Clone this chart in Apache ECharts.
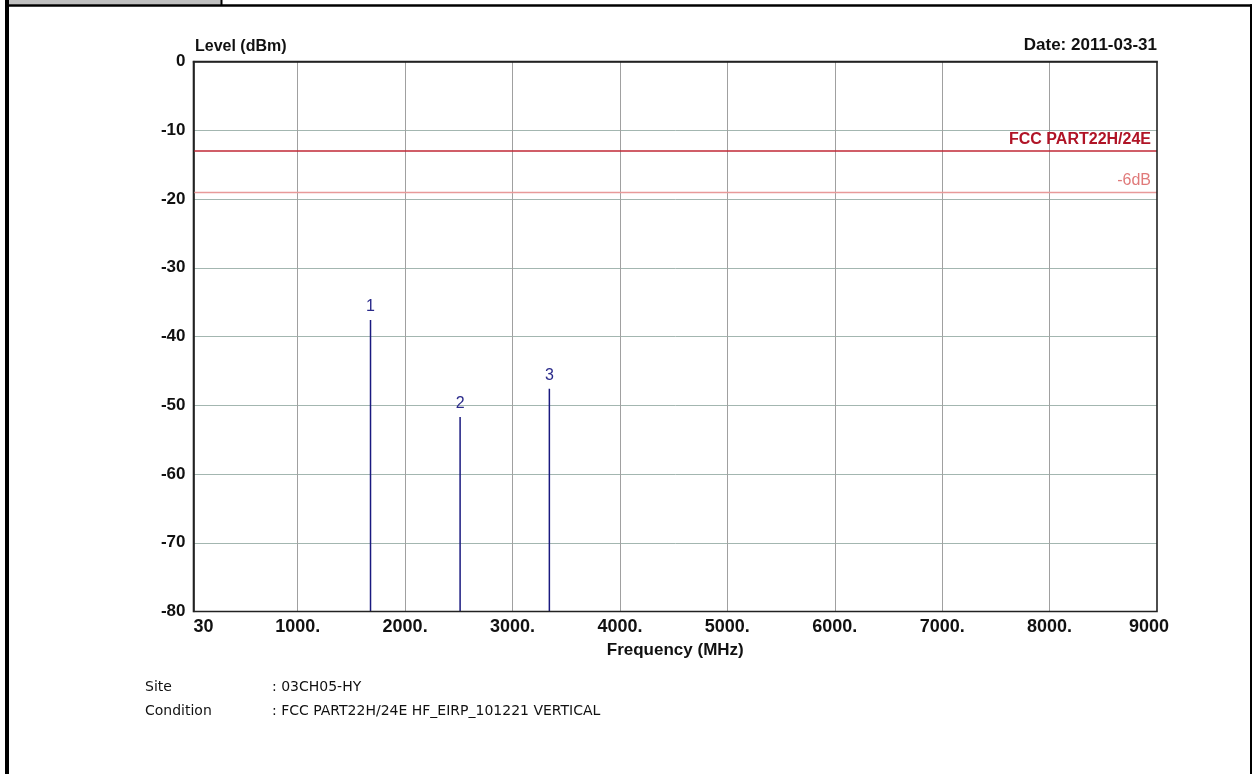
<!DOCTYPE html>
<html>
<head>
<meta charset="utf-8">
<script src="https://cdn.jsdelivr.net/npm/echarts@6/dist/echarts.min.js"></script>
<style>
html,body{margin:0;padding:0;background:#fff;}
#chart{width:1252px;height:774px;}
</style>
</head>
<body>
<div id="chart"></div>
<script>
// ---- data ----
const markerIds = ['1', '2', '3'];
const markerFreqs = [1678, 2512, 3343];        // MHz
const markerLevels = [-37.6, -51.7, -47.6];    // dBm
const limitValues = [-13, -19];                // dBm
const limitNames = ['FCC PART22H/24E', '-6dB'];
const xTicks = [30, 1000, 2000, 3000, 4000, 5000, 6000, 7000, 8000, 9000];
const yMin = -80, yMax = 0, yStep = 10;
const xMin = 30, xMax = 9000;
const dateText = 'Date: 2011-03-31';
const infoLabels = ['Site', 'Condition'];
const infoValues = [': 03CH05-HY', ': FCC PART22H/24E HF_EIRP_101221 VERTICAL'];

const chart = echarts.init(document.getElementById('chart'), null, {renderer: 'canvas'});
const FONT = 'Liberation Sans, Arial, sans-serif';
const INFO_FONT = '14px DejaVu Sans, sans-serif';

const spikeData = markerFreqs.map((f, i) => [f, markerLevels[i], markerIds[i]]);

const option = {
  backgroundColor: '#fff',
  animation: false,
  grid: {
    left: 193.5, right: 95, top: 61.5, bottom: 162.5,
    show: true, borderColor: '#222', borderWidth: 1.6, backgroundColor: 'transparent', z: 10
  },
  xAxis: {
    type: 'value', min: xMin, max: xMax,
    name: 'Frequency (MHz)', nameLocation: 'middle', nameGap: 28,
    nameTextStyle: {fontFamily: FONT, fontWeight: 'bold', fontSize: 17, color: '#111'},
    axisLine: {show: true, lineStyle: {color: '#222', width: 1.6}},
    axisTick: {show: false, customValues: xTicks},
    splitLine: {show: true, showMinLine: false, showMaxLine: false, lineStyle: {color: '#a0a0a0', width: 1}},
    axisLabel: {
      customValues: xTicks,
      margin: 7,
      alignMinLabel: 'left',
      fontFamily: FONT, fontWeight: 'bold', fontSize: 18, color: '#111',
      formatter: function (v) {
        if (v === xMin) return '30';
        if (v === xMax) return '{m|9000}';
        return v + '.';
      },
      rich: {m: {fontFamily: FONT, fontWeight: 'bold', fontSize: 18, color: '#111', padding: [0, 16, 0, 0]}}
    }
  },
  yAxis: {
    type: 'value', min: yMin, max: yMax, interval: yStep,
    axisLine: {show: true, lineStyle: {color: '#222', width: 1.6}},
    axisTick: {show: false},
    splitLine: {show: true, showMinLine: false, showMaxLine: false, lineStyle: {color: '#a3b6b0', width: 1}},
    axisLabel: {margin: 8, fontFamily: FONT, fontWeight: 'bold', fontSize: 17, color: '#111'}
  },
  series: [
    {
      type: 'custom',
      data: spikeData,
      z: 5,
      clip: true,
      renderItem: function (params, api) {
        const x = api.value(0), y = api.value(1);
        const top = api.coord([x, y]);
        const base = api.coord([x, yMin]);
        return {
          type: 'group',
          children: [
            {type: 'line', shape: {x1: top[0], y1: top[1], x2: base[0], y2: base[1]},
              style: {stroke: '#1a1a80', lineWidth: 1.5}},
            {type: 'text', x: top[0], y: top[1] - 5,
              style: {text: markerIds[params.dataIndex], fill: '#2a2a8a', font: '16px ' + FONT,
                align: 'center', verticalAlign: 'bottom'}}
          ]
        };
      },
      markLine: {
        silent: true, symbol: 'none', animation: false,
        data: [
          {yAxis: limitValues[0], name: limitNames[0],
            lineStyle: {color: '#c02836', width: 1.6, type: 'solid'},
            label: {show: true, position: 'insideEndTop', formatter: limitNames[0], distance: [6, 3],
              color: '#b01426', fontFamily: FONT, fontWeight: 'bold', fontSize: 16}},
          {yAxis: limitValues[1], name: limitNames[1],
            lineStyle: {color: '#e89a9a', width: 1.4, type: 'solid'},
            label: {show: true, position: 'insideEndTop', formatter: limitNames[1], distance: [6, 4],
              color: '#e07a7a', fontFamily: FONT, fontSize: 16}}
        ]
      }
    }
  ],
  graphic: [
    // frame
    {type: 'rect', shape: {x: 9, y: 0, width: 212, height: 4.5}, style: {fill: '#c0c0c0'}, silent: true},
    {type: 'rect', shape: {x: 220.5, y: 0, width: 2, height: 5}, style: {fill: '#000'}, silent: true},
    {type: 'rect', shape: {x: 5, y: 4.3, width: 1247, height: 2.4}, style: {fill: '#000'}, silent: true},
    {type: 'rect', shape: {x: 5, y: 0, width: 4, height: 774}, style: {fill: '#000'}, silent: true},
    {type: 'rect', shape: {x: 1250, y: 4.3, width: 2, height: 770}, style: {fill: '#000'}, silent: true},
    // titles
    {type: 'text', x: 195, y: 47, style: {text: 'Level (dBm)', font: 'bold 16px ' + FONT, fill: '#111',
      align: 'left', verticalAlign: 'middle'}, silent: true},
    {type: 'text', x: 1157, y: 45, style: {text: dateText, font: 'bold 17px ' + FONT, fill: '#111',
      align: 'right', verticalAlign: 'middle'}, silent: true},
    // info lines
    {type: 'text', x: 145, y: 687, style: {text: infoLabels[0], font: INFO_FONT, fill: '#111',
      align: 'left', verticalAlign: 'middle'}, silent: true},
    {type: 'text', x: 272, y: 687, style: {text: infoValues[0], font: INFO_FONT, fill: '#111',
      align: 'left', verticalAlign: 'middle'}, silent: true},
    {type: 'text', x: 145, y: 711, style: {text: infoLabels[1], font: INFO_FONT, fill: '#111',
      align: 'left', verticalAlign: 'middle'}, silent: true},
    {type: 'text', x: 272, y: 711, style: {text: infoValues[1], font: INFO_FONT, fill: '#111',
      align: 'left', verticalAlign: 'middle'}, silent: true}
  ]
};
chart.setOption(option);
</script>
</body>
</html>
